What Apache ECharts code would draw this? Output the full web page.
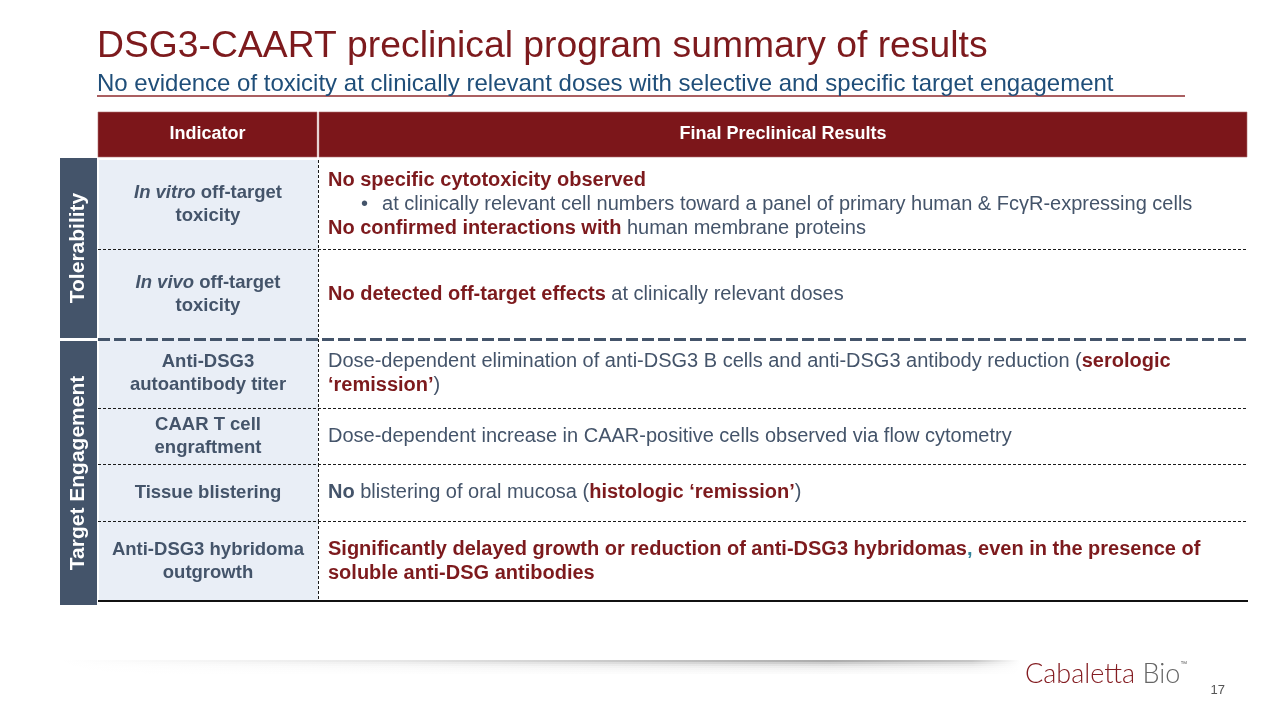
<!DOCTYPE html>
<html>
<head>
<meta charset="utf-8">
<script src="https://cdn.jsdelivr.net/npm/echarts@6/dist/echarts.min.js"></script>
<style>
html,body{margin:0;padding:0;background:#fff;}
#chart{width:1280px;height:720px;}
</style>
</head>
<body>
<div id="chart"></div>
<script>
// ---------- content ----------
const titleText = 'DSG3-CAART preclinical program summary of results';
const subtitleText = 'No evidence of toxicity at clinically relevant doses with selective and specific target engagement';
const headers = ['Indicator', 'Final Preclinical Results'];
const groupLabels = ['Tolerability', 'Target Engagement'];
const groupRows = [[0, 1], [2, 5]];
const indicatorText = [
  '{bi|In vitro}{b| off-target}\n{b|toxicity}',
  '{bi|In vivo}{b| off-target}\n{b|toxicity}',
  '{b|Anti-DSG3}\n{b|autoantibody titer}',
  '{b|CAAR T cell}\n{b|engraftment}',
  '{b|Tissue blistering}',
  '{b|Anti-DSG3 hybridoma}\n{b|outgrowth}'
];
const resultText = [
  '{r|No specific cytotoxicity observed}\n{bul|•}{g|at clinically relevant cell numbers toward a panel of primary human & FcγR-expressing cells}\n{r|No confirmed interactions with}{g| human membrane proteins}',
  '{r|No detected off-target effects}{g| at clinically relevant doses}',
  '{g|Dose-dependent elimination of anti-DSG3 B cells and anti-DSG3 antibody reduction (}{r|serologic}\n{r|‘remission’}{g|)}',
  '{g|Dose-dependent increase in CAAR-positive cells observed via flow cytometry}',
  '{gb|No}{g| blistering of oral mucosa (}{r|histologic ‘remission’}{g|)}',
  '{r|Significantly delayed growth or reduction of anti-DSG3 hybridomas}{t|,}{r| even in the presence of}\n{r|soluble anti-DSG antibodies}'
];
const pageNumber = '17';

// ---------- layout (page units) ----------
const COL_EDGES = [98, 318, 1247];
const HEADER_EDGES = [112, 157];
const ROW_EDGES = [160, 249, 339, 408, 464, 521, 601];
const GROUP_X = [60, 97];
const GROUP_EDGES = [[158, 338], [341, 605]];

const FONT = '"Liberation Sans", Arial, Helvetica, sans-serif';
const RED = '#7D1A1D';
const SLATE = '#44546A';
const BODY = '#44546A';
const BFS = 20;

const richBody = {
  r: {fontFamily: FONT, fontSize: BFS, fontWeight: 'bold', fill: RED, lineHeight: 24},
  g: {fontFamily: FONT, fontSize: BFS, fill: BODY, lineHeight: 24},
  gb: {fontFamily: FONT, fontSize: BFS, fontWeight: 'bold', fill: BODY, lineHeight: 24},
  t: {fontFamily: FONT, fontSize: BFS, fontWeight: 'bold', fill: '#31849B', lineHeight: 24},
  bul: {fontFamily: FONT, fontSize: BFS, fill: BODY, lineHeight: 24, padding: [0, 14, 0, 33]}
};
const richInd = {
  b: {fontFamily: FONT, fontSize: 18.5, fontWeight: 'bold', fill: SLATE, lineHeight: 23, align: 'center'},
  bi: {fontFamily: FONT, fontSize: 18.5, fontWeight: 'bold', fontStyle: 'italic', fill: SLATE, lineHeight: 23, align: 'center'}
};

function renderHeader(params, api) {
  const i = api.value(0);
  const a = api.coord([COL_EDGES[i] + (i ? 1 : 0), HEADER_EDGES[0]]);
  const b = api.coord([COL_EDGES[i + 1] - (i ? 0 : 1), HEADER_EDGES[1]]);
  return {
    type: 'group',
    children: [
      {type: 'rect', shape: {x: a[0], y: a[1], width: b[0] - a[0], height: b[1] - a[1]},
       style: {fill: '#7C161A', stroke: '#B07070', lineWidth: 0.6}},
      {type: 'text', style: {text: headers[i], x: (a[0] + b[0]) / 2, y: (a[1] + b[1]) / 2,
        align: 'center', verticalAlign: 'middle', fill: '#fff',
        font: 'bold 18px ' + FONT}}
    ]
  };
}

function renderGroup(params, api) {
  const i = api.value(0);
  const a = api.coord([GROUP_X[0], GROUP_EDGES[i][0]]);
  const b = api.coord([GROUP_X[1], GROUP_EDGES[i][1]]);
  return {
    type: 'group',
    children: [
      {type: 'rect', shape: {x: a[0], y: a[1], width: b[0] - a[0], height: b[1] - a[1]},
       style: {fill: SLATE}},
      {type: 'text', x: (a[0] + b[0]) / 2, y: (a[1] + b[1]) / 2, rotation: Math.PI / 2,
       style: {text: groupLabels[i], x: 0, y: 0, align: 'center', verticalAlign: 'middle',
        fill: '#fff', font: 'bold 21px ' + FONT}}
    ]
  };
}

function renderRow(params, api) {
  const i = api.value(0);
  const tl = api.coord([COL_EDGES[0], ROW_EDGES[i]]);
  const mid = api.coord([COL_EDGES[1], ROW_EDGES[i + 1]]);
  const br = api.coord([COL_EDGES[2], ROW_EDGES[i + 1]]);
  const cy = (tl[1] + br[1]) / 2;
  const children = [
    {type: 'rect', z2: 1, shape: {x: tl[0] + 1, y: tl[1], width: mid[0] - tl[0] - 1, height: mid[1] - tl[1]},
     style: {fill: '#E9EEF6'}},
    {type: 'text', z2: 5, style: {text: indicatorText[i], x: (tl[0] + mid[0]) / 2, y: cy,
      align: 'center', verticalAlign: 'middle', rich: richInd, fill: SLATE}},
    {type: 'text', z2: 5, style: {text: resultText[i], x: mid[0] + 10, y: cy,
      align: 'left', verticalAlign: 'middle', rich: richBody, font: BFS + 'px ' + FONT, fill: BODY}},
    {type: 'line', z2: 10, shape: {x1: mid[0] + 0.5, y1: tl[1], x2: mid[0] + 0.5, y2: br[1]},
     style: {stroke: '#1a1a1a', lineWidth: 1, lineDash: [3, 2]}}
  ];
  const last = i === ROW_EDGES.length - 2;
  const groupEnd = groupRows.some(g => g[1] === i);
  let lineStyle, off = 0.5;
  if (last) { lineStyle = {stroke: '#111', lineWidth: 2}; off = 0; }
  else if (groupEnd) { lineStyle = {stroke: SLATE, lineWidth: 3, lineDash: [12, 4]}; }
  else lineStyle = {stroke: '#1a1a1a', lineWidth: 1, lineDash: [3, 2]};
  children.push({type: 'line', z2: 12, shape: {x1: tl[0], y1: br[1] + off, x2: br[0] + (last ? 1 : 0), y2: br[1] + off}, style: lineStyle});
  return {type: 'group', children};
}

// footer shadow bands (decorative)
const shadow = [];
for (let k = 0; k < 7; k++) {
  const a = 0.5 * Math.pow(0.62, k);
  shadow.push({
    type: 'rect', silent: true,
    shape: {x: 60, y: 660 + k * 2, width: 960, height: 2},
    style: {fill: new echarts.graphic.LinearGradient(0, 0, 1, 0, [
      {offset: 0, color: 'rgba(90,90,90,0)'},
      {offset: 0.35, color: 'rgba(90,90,90,' + (a * 0.3) + ')'},
      {offset: 0.8, color: 'rgba(90,90,90,' + a + ')'},
      {offset: 0.95, color: 'rgba(90,90,90,' + (a * 0.7) + ')'},
      {offset: 1, color: 'rgba(90,90,90,0)'}
    ])}
  });
}

const chart = echarts.init(document.getElementById('chart'), null, {renderer: 'canvas'});
chart.setOption({
  animation: false,
  backgroundColor: '#fff',
  title: [
    {text: titleText, left: 92, top: 22,
     textStyle: {color: RED, fontFamily: FONT, fontSize: 37.3, fontWeight: 'normal', lineHeight: 40}},
    {text: subtitleText, left: 92, top: 66,
     textStyle: {color: '#1F4E79', fontFamily: FONT, fontSize: 24, fontWeight: 'normal', lineHeight: 26}}
  ],
  grid: {left: 0, top: 0, right: 0, bottom: 0},
  xAxis: {type: 'value', min: 0, max: 1280, show: false},
  yAxis: {type: 'value', min: 0, max: 720, inverse: true, show: false},
  series: [
    {type: 'custom', name: 'rows', data: indicatorText.map((_, i) => [i]), renderItem: renderRow, silent: true},
    {type: 'custom', name: 'headers', data: headers.map((_, i) => [i]), renderItem: renderHeader, silent: true},
    {type: 'custom', name: 'groups', data: groupLabels.map((_, i) => [i]), renderItem: renderGroup, silent: true}
  ],
  graphic: [
    {type: 'line', silent: true, shape: {x1: 97, y1: 96, x2: 1185, y2: 96}, style: {stroke: '#8E2A2C', lineWidth: 1.5}},
    ...shadow,
    {type: 'text', silent: true, x: 1025, y: 674,
     style: {text: '{c|Cabaletta}{b| Bio}{tm|™}', verticalAlign: 'middle',
       rich: {c: {fontFamily: 'Lato, "Noto Sans", sans-serif', fontSize: 27, fill: '#841D22', fontWeight: 300},
              b: {fontFamily: 'Lato, "Noto Sans", sans-serif', fontSize: 27, fill: '#666', fontWeight: 300},
              tm: {fontFamily: FONT, fontSize: 7, fill: '#666', verticalAlign: 'top', padding: [0, 0, 14, 0]}}}},
    {type: 'text', silent: true, x: 1225, y: 690,
     style: {text: pageNumber, align: 'right', verticalAlign: 'middle', fill: '#555', font: '13px ' + FONT}}
  ]
});
</script>
</body>
</html>
